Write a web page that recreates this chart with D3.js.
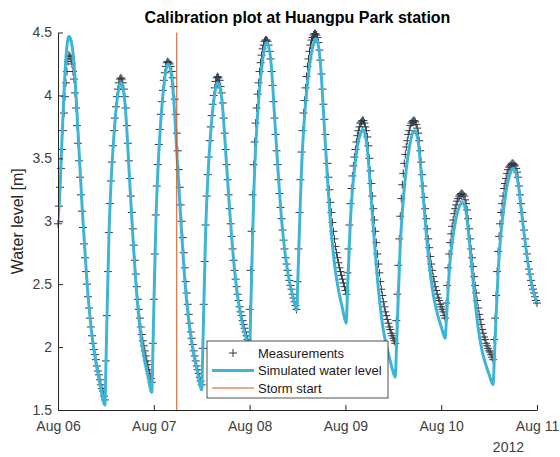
<!DOCTYPE html>
<html>
<head>
<meta charset="utf-8">
<script src="https://cdn.jsdelivr.net/npm/d3@7"></script>
<style>
  html, body { margin: 0; padding: 0; background: #fff; }
  svg { display: block; font-family: "Liberation Sans", Arial, Helvetica, sans-serif; }
</style>
</head>
<body>
<svg id="chart" width="560" height="457"></svg>
<script>
// Measured water level at Huangpu Park, one value every 15 minutes, one array per day (UTC)
const measStepMinutes = 15;
const levelsAug06 = [
  2.98,3.12,3.27,3.42,3.57,3.72,3.86,3.99,4.10,4.19,4.27,4.32,
  4.31,4.29,4.25,4.19,4.13,4.02,3.90,3.76,3.62,3.48,3.35,3.21,3.08,2.95,2.82,2.71,2.60,2.50,2.40,2.31,2.23,2.16,2.09,2.03,1.98,1.94,1.90,1.85,1.81,1.78,1.74,1.70,1.67,1.65,1.61,1.58,
  1.89,2.25,2.60,2.91,3.14,3.32,3.47,3.60,3.72,3.82,3.91,3.99,4.05,4.10,4.13,4.14,
  4.13,4.10,4.05,3.99,3.90,3.76,3.62,3.48,3.34,3.20,3.07,2.94,2.81,2.69,2.58,2.48,2.38,2.30,2.23,2.16,2.10,2.05,2.01,1.97,1.93,1.89,1.86,1.82,1.79,1.75,1.72,
  2.03
];
const levelsAug07 = [
  2.38,2.74,3.05,3.28,3.45,3.61,3.73,3.85,3.95,4.04,4.12,4.18,4.23,4.26,4.27,
  4.26,4.25,4.23,4.19,4.14,4.07,3.97,3.85,3.70,3.56,3.41,3.27,3.13,3.00,2.87,2.75,2.63,2.52,2.43,2.34,2.26,2.19,2.12,2.07,2.02,1.97,1.93,1.89,1.85,1.82,1.79,1.76,1.73,1.70,
  1.99,2.34,2.68,2.97,3.20,3.37,3.51,3.64,3.75,3.84,3.93,4.00,4.06,4.11,4.14,4.15,
  4.14,4.12,4.07,4.02,3.94,3.82,3.70,3.57,3.45,3.33,3.21,3.10,2.98,2.88,2.78,2.69,2.61,2.54,2.48,2.42,2.37,2.32,2.28,2.25,2.21,2.18,2.15,2.12,2.09,2.06,2.03
];
const levelsAug08 = [
  2.30,2.61,2.92,3.21,3.45,3.63,3.78,3.90,4.01,4.10,4.19,4.26,4.32,4.37,4.40,4.43,4.44,4.44,
  4.43,4.40,4.35,4.29,4.19,4.08,3.95,3.82,3.69,3.56,3.45,3.33,3.22,3.11,3.02,2.93,2.85,2.78,2.71,2.66,2.61,2.57,2.53,2.49,2.46,2.42,2.39,2.36,2.33,2.30,
  2.52,2.78,3.07,3.33,3.55,3.72,3.86,3.96,4.06,4.15,4.23,4.29,4.35,4.40,4.44,4.46,4.48,4.49,4.49,
  4.48,4.46,4.42,4.36,4.28,4.17,4.05,3.93,3.81,3.69,3.57,3.46,3.35,3.25,3.15,3.07,2.99,2.92,2.86,2.80,2.75,2.71,2.67,2.63,2.60,2.57,2.54,2.51,2.48
];
const levelsAug09 = [
  2.45,2.42,
  2.59,2.78,2.97,3.14,3.26,3.36,3.44,3.51,3.57,3.63,3.68,3.72,3.75,3.78,3.79,3.80,
  3.80,3.78,3.75,3.72,3.67,3.60,3.50,3.40,3.30,3.20,3.10,3.01,2.92,2.83,2.74,2.66,2.59,2.52,2.46,2.41,2.36,2.32,2.28,2.25,2.22,2.19,2.16,2.14,2.11,2.09,2.07,2.05,2.03,
  2.21,2.42,2.65,2.86,3.04,3.18,3.29,3.38,3.46,3.53,3.59,3.64,3.69,3.72,3.76,3.78,3.79,3.80,3.80,
  3.79,3.77,3.74,3.70,3.64,3.56,3.47,3.37,3.28,3.19,3.10,3.02,2.94,2.86,2.79,2.72,2.66,2.61,2.56,2.52,2.48,2.45,2.42,2.39,2.37,2.34
];
const levelsAug10 = [
  2.32,2.30,2.28,2.25,2.23,
  2.35,2.49,2.63,2.74,2.83,2.90,2.96,3.01,3.06,3.10,3.13,3.16,3.18,3.20,3.21,3.22,3.22,
  3.21,3.20,3.17,3.14,3.09,3.02,2.94,2.86,2.78,2.71,2.64,2.56,2.49,2.43,2.37,2.31,2.26,2.22,2.18,2.14,2.11,2.08,2.06,2.03,2.01,1.99,1.97,1.96,1.94,1.92,1.90,
  2.06,2.23,2.41,2.60,2.76,2.88,2.98,3.07,3.14,3.20,3.26,3.30,3.34,3.38,3.41,3.43,3.44,3.45,3.46,3.46,
  3.45,3.44,3.42,3.39,3.35,3.28,3.21,3.14,3.07,3.00,2.93,2.86,2.80,2.74,2.68,2.62,2.58,2.53,2.49,2.46,2.43,2.40,2.37,2.35
];

// Simulated water level: hours after 6 Aug 2012 00:00 and level [m]
const simHours = [
  0,0.5,1,1.5,2,2.4,2.75,
  3.31,3.875,4.44,5.0,6.125,7.25,8.375,9.5,10.625,11.75,
  12.0,12.25,12.75,13.25,13.75,14.25,14.75,15.25,15.75,
  16.23,16.72,17.20,17.69,18.66,19.63,20.59,21.56,22.53,23.5,
  23.76,24.01,24.53,25.04,25.55,26.06,26.58,27.09,27.6,
  28.13,28.65,29.18,29.7,30.75,31.8,32.85,33.9,34.95,36,
  36.25,36.5,37,37.5,38,38.5,39,39.5,40,
  40.5,41,41.5,42,43,44,45,46,47,48,
  48.27,48.54,49.08,49.61,50.15,50.69,51.23,51.76,52.3,
  52.77,53.24,53.71,54.18,55.11,56.05,56.99,57.93,58.86,59.8,
  60.1,60.4,61.0,61.6,62.2,62.8,63.4,64.0,64.6,
  65.08,65.55,66.03,66.5,67.45,68.4,69.35,70.3,71.25,72.2,
  72.46,72.71,73.23,73.74,74.25,74.76,75.28,75.79,76.3,
  76.81,77.33,77.84,78.35,79.38,80.4,81.43,82.45,83.48,84.5,
  84.8,85.1,85.7,86.3,86.9,87.5,88.1,88.7,89.3,
  89.78,90.26,90.74,91.23,92.19,93.15,94.11,95.08,96.04,97,
  97.27,97.54,98.08,98.61,99.15,99.69,100.23,100.76,101.3,
  101.78,102.26,102.74,103.23,104.19,105.15,106.11,107.08,108.04,109,
  109.31,109.63,110.25,110.88,111.5,112.13,112.75,113.38,114,
  114.5,115,115.5,116,117,118,119,120
];
const simLevels = [
  3.00,3.25,3.66,4.02,4.30,4.43,4.47,
  4.43,4.30,4.05,3.72,3.07,2.52,2.13,1.88,1.69,1.54,
  1.85,2.21,2.87,3.28,3.56,3.78,3.95,4.06,4.10,
  4.06,3.96,3.75,3.47,2.93,2.46,2.13,1.92,1.77,1.64,
  1.95,2.32,3.00,3.41,3.70,3.92,4.09,4.21,4.25,
  4.21,4.10,3.88,3.58,3.02,2.52,2.18,1.96,1.80,1.66,
  1.95,2.29,2.93,3.32,3.59,3.80,3.95,4.06,4.10,
  4.07,3.98,3.80,3.56,3.09,2.69,2.40,2.22,2.09,1.98,
  2.27,2.61,3.25,3.64,3.91,4.12,4.27,4.38,4.42,
  4.39,4.30,4.12,3.87,3.41,3.00,2.72,2.53,2.40,2.29,
  2.55,2.85,3.41,3.76,4.00,4.18,4.32,4.41,4.45,
  4.42,4.32,4.13,3.87,3.37,2.94,2.64,2.45,2.31,2.19,
  2.37,2.59,2.99,3.24,3.41,3.54,3.64,3.70,3.73,
  3.70,3.62,3.45,3.22,2.79,2.42,2.15,1.99,1.86,1.76,
  2.00,2.27,2.78,3.09,3.31,3.48,3.60,3.69,3.72,
  3.70,3.63,3.48,3.30,2.93,2.62,2.40,2.26,2.16,2.07,
  2.20,2.35,2.63,2.80,2.92,3.02,3.09,3.13,3.15,
  3.13,3.07,2.94,2.78,2.46,2.18,1.99,1.87,1.78,1.70,
  1.91,2.15,2.59,2.87,3.06,3.21,3.32,3.39,3.42,
  3.40,3.35,3.25,3.11,2.84,2.61,2.45,2.35
];

const stormStart = new Date(Date.UTC(2012, 7, 7, 5, 45));
const yTicks = [1.5, 2, 2.5, 3, 3.5, 4, 4.5];
const legendLabels = ["Measurements", "Simulated water level", "Storm start"];
const chartTitle = "Calibration plot at Huangpu Park station";
const yTitle = "Water level [m]";
const yearLabel = "2012";

// Layout
const W = 560, H = 457;
const plot = { left: 58, right: 537, top: 32.5, bottom: 410 };
const axisColor = "#262626";
const simColor = "#3fb4d6";
const measColor = "#2e3a44";
const stormColor = "#d95319";

const t0 = Date.UTC(2012, 7, 6);
const measured = [levelsAug06, levelsAug07, levelsAug08, levelsAug09, levelsAug10]
  .flatMap((arr, d) => arr.map((v, j) => ({
    t: new Date(t0 + d * 864e5 + j * measStepMinutes * 6e4), v
  })));
const simulated = simHours.map((h, i) => ({ t: new Date(t0 + h * 36e5), v: simLevels[i] }));

const x = d3.scaleUtc()
  .domain([new Date(t0), new Date(Date.UTC(2012, 7, 11))])
  .range([plot.left, plot.right]);
const y = d3.scaleLinear().domain([1.5, 4.5]).range([plot.bottom, plot.top]);

const svg = d3.select("#chart");

svg.append("defs").append("clipPath").attr("id", "plotClip")
  .append("rect")
  .attr("x", plot.left).attr("y", plot.top - 4)
  .attr("width", plot.right - plot.left).attr("height", plot.bottom - plot.top + 4);

// Measurements as "+" markers
const half = 4;
svg.append("g").attr("class", "measurements")
  .selectAll("path")
  .data(measured)
  .join("path")
  .attr("d", d => {
    const px = x(d.t), py = y(d.v);
    return `M${px - half},${py}h${2 * half}M${px},${py - half}v${2 * half}`;
  })
  .attr("fill", "none")
  .attr("stroke", measColor)
  .attr("stroke-width", 1);

// Simulated water level
const simLine = d3.line()
  .x(d => x(d.t))
  .y(d => y(d.v))
  .curve(d3.curveMonotoneX);

svg.append("path")
  .datum(simulated)
  .attr("clip-path", "url(#plotClip)")
  .attr("d", simLine)
  .attr("fill", "none")
  .attr("stroke", simColor)
  .attr("stroke-width", 3)
  .attr("stroke-linejoin", "round");

// Storm start marker
svg.append("line")
  .attr("x1", x(stormStart)).attr("x2", x(stormStart))
  .attr("y1", plot.top).attr("y2", plot.bottom)
  .attr("stroke", stormColor)
  .attr("stroke-width", 1);

// Axes (ticks pointing inward)
const xAxis = d3.axisBottom(x)
  .ticks(d3.utcDay.every(1))
  .tickFormat(d3.utcFormat("%b %d"))
  .tickSizeInner(-5)
  .tickSizeOuter(0)
  .tickPadding(11);

const yAxis = d3.axisLeft(y)
  .tickValues(yTicks)
  .tickFormat(d3.format(""))
  .tickSizeInner(-5)
  .tickSizeOuter(0)
  .tickPadding(6);

const gx = svg.append("g")
  .attr("transform", `translate(0,${plot.bottom})`)
  .call(xAxis);
const gy = svg.append("g")
  .attr("transform", `translate(${plot.left},0)`)
  .call(yAxis);

[gx, gy].forEach(g => {
  g.select(".domain").attr("stroke", axisColor).attr("stroke-width", 1);
  g.selectAll(".tick line").attr("stroke", axisColor);
  g.selectAll(".tick text")
    .attr("fill", "#404040")
    .style("font-size", "14px")
    .style("font-family", '"Liberation Sans", Arial, Helvetica, sans-serif');
});

svg.append("text")
  .attr("x", 524).attr("y", 452)
  .attr("text-anchor", "end")
  .attr("fill", "#404040")
  .style("font-size", "14px")
  .text(yearLabel);

// Title and axis label
svg.append("text")
  .attr("x", (plot.left + plot.right) / 2).attr("y", 23)
  .attr("text-anchor", "middle")
  .attr("fill", "#000")
  .style("font-size", "16px")
  .style("font-weight", "bold")
  .text(chartTitle);

svg.append("text")
  .attr("transform", `translate(23,${(plot.top + plot.bottom) / 2}) rotate(-90)`)
  .attr("text-anchor", "middle")
  .attr("fill", "#262626")
  .style("font-size", "16px")
  .text(yTitle);

// Legend
const lg = svg.append("g").attr("transform", "translate(207,341)");
lg.append("rect")
  .attr("width", 181).attr("height", 57)
  .attr("fill", "#fff")
  .attr("stroke", axisColor)
  .attr("stroke-width", 0.8);

const rows = [12, 29.5, 47];
lg.append("path")
  .attr("d", `M${26 - half},${rows[0]}h${2 * half}M26,${rows[0] - half}v${2 * half}`)
  .attr("stroke", measColor).attr("stroke-width", 1).attr("fill", "none");
lg.append("line")
  .attr("x1", 5).attr("x2", 47).attr("y1", rows[1]).attr("y2", rows[1])
  .attr("stroke", simColor).attr("stroke-width", 3);
lg.append("line")
  .attr("x1", 5).attr("x2", 47).attr("y1", rows[2]).attr("y2", rows[2])
  .attr("stroke", stormColor).attr("stroke-width", 1);

lg.selectAll("text.lbl")
  .data(legendLabels)
  .join("text")
  .attr("class", "lbl")
  .attr("x", 51)
  .attr("y", (d, i) => rows[i])
  .attr("dy", "0.35em")
  .attr("fill", "#1a1a1a")
  .style("font-size", "13px")
  .text(d => d);
</script>
</body>
</html>
